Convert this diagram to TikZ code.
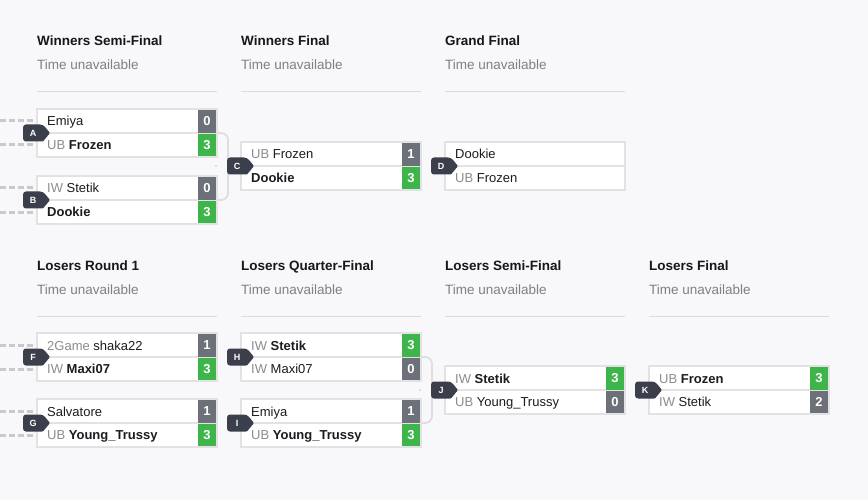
\documentclass[tikz,border=0pt]{standalone}
\usepackage{fontspec}
\setmainfont{Liberation Sans}
\definecolor{bgc}{HTML}{F8F8FA}
\definecolor{boxborder}{HTML}{E2E2E4}
\definecolor{connc}{HTML}{DEDEE0}
\definecolor{hline}{HTML}{DCDCDE}
\definecolor{titlec}{HTML}{15171C}
\definecolor{subc}{HTML}{7E8084}
\definecolor{prec}{HTML}{8A8C90}
\definecolor{namec}{HTML}{1A1C20}
\definecolor{lossc}{HTML}{6C7079}
\definecolor{winc}{HTML}{3DB54A}
\definecolor{tagc}{HTML}{3A3F4B}
\definecolor{dashc}{HTML}{C9C9CC}
\pgfdeclarelayer{bg}
\pgfsetlayers{bg,main}
\newcommand{\pre}[1]{\textcolor{prec}{#1}}
\newcommand{\matchbox}[9]{%
  \node[boxst, anchor=north west] (#1box) at (#2,#3) {};
  \draw[divst] (#1box.west) -- (#1box.east);
  \node[scorest, fill=#6] (#1s1) at (#2+170,#3+12.5) {#5};
  \node[scorest, fill=#9] (#1s2) at (#2+170,#3+35.8) {#8};
  \node[namest] (#1p1) at (#2+10,#3+17) {#4};
  \node[namest] (#1p2) at (#2+10,#3+40.5) {#7};
}
\newcommand{\header}[4]{%
  \node[titlest] (#1t) at (#2,#3) {#4};
  \node[subst] (#1s) at (#2,#3+24) {Time unavailable};
  \draw[hdrline] (#2,#3+46) coordinate (#1l1) -- (#2+180,#3+46) coordinate (#1l2);
}
% tag: pentagon pointing right, drawn round a named node
\newcommand{\mtag}[2]{%
  \fill[tagc] ([xshift=-14pt]#2box.west) ++(0,8.5) [rounded corners=3pt] -- ++(0,-17) -- ++(20,0) [rounded corners=0.8pt] -- ++(7,8.5) -- ++(-7,8.5) [rounded corners=3pt] -- cycle;
  \node[tagst] (#1tag) at ([xshift=-4pt]#2box.west) {#1};
}
\begin{document}
\begin{tikzpicture}[x=1pt,y=-1pt,
  boxst/.style={draw=boxborder, line width=1.6pt, fill=white, minimum width=180pt, minimum height=48pt, inner sep=0pt, outer sep=0pt},
  divst/.style={draw=boxborder, line width=1.4pt},
  scorest/.style={minimum width=18pt, minimum height=22.3pt, inner sep=0pt, text=white, font=\fontsize{13}{15}\selectfont\bfseries},
  namest/.style={anchor=base west, inner sep=0pt, text=namec, font=\fontsize{13}{15}\selectfont},
  titlest/.style={anchor=base west, inner sep=0pt, text=titlec, font=\fontsize{13.5}{16}\selectfont\bfseries},
  subst/.style={anchor=base west, inner sep=0pt, text=subc, font=\fontsize{13.5}{16}\selectfont},
  hdrline/.style={draw=hline, line width=1pt},
  tagst/.style={minimum width=20pt, minimum height=17pt, inner sep=0pt, text=white, font=\fontsize{9}{10}\selectfont\bfseries},
  connst/.style={draw=connc, line width=1.8pt},
  dashst/.style={draw=dashc, line width=3pt, dash pattern=on 5.5pt off 3.5pt},
]
\useasboundingbox (0,0) rectangle (868,500);

% headers
\header{ws}{37}{46}{Winners Semi-Final}
\header{wf}{241}{46}{Winners Final}
\header{gf}{445}{46}{Grand Final}
\header{lr}{37}{270}{Losers Round 1}
\header{lq}{241}{270}{Losers Quarter-Final}
\header{ls}{445}{270}{Losers Semi-Final}
\header{lf}{649}{270}{Losers Final}

% matches
\matchbox{A}{37}{109}{Emiya}{0}{lossc}{\pre{UB} \textbf{Frozen}}{3}{winc}
\matchbox{B}{37}{176}{\pre{IW} Stetik}{0}{lossc}{\textbf{Dookie}}{3}{winc}
\matchbox{C}{241}{142}{\pre{UB} Frozen}{1}{lossc}{\textbf{Dookie}}{3}{winc}
\matchbox{D}{445}{142}{Dookie}{}{none}{\pre{UB} Frozen}{}{none}
\matchbox{F}{37}{333}{\pre{2Game} shaka22}{1}{lossc}{\pre{IW} \textbf{Maxi07}}{3}{winc}
\matchbox{G}{37}{399}{Salvatore}{1}{lossc}{\pre{UB} \textbf{Young\_Trussy}}{3}{winc}
\matchbox{H}{241}{333}{\pre{IW} \textbf{Stetik}}{3}{winc}{\pre{IW} Maxi07}{0}{lossc}
\matchbox{I}{241}{399}{Emiya}{1}{lossc}{\pre{UB} \textbf{Young\_Trussy}}{3}{winc}
\matchbox{J}{445}{366}{\pre{IW} \textbf{Stetik}}{3}{winc}{\pre{UB} Young\_Trussy}{0}{lossc}
\matchbox{K}{649}{366}{\pre{UB} \textbf{Frozen}}{3}{winc}{\pre{IW} Stetik}{2}{lossc}

% tags
\mtag{A}{A}
\mtag{B}{B}
\mtag{C}{C}
\mtag{D}{D}
\mtag{F}{F}
\mtag{G}{G}
\mtag{H}{H}
\mtag{I}{I}
\mtag{J}{J}
\mtag{K}{K}

% incoming dashed lines
\coordinate (a1) at (0,121); \coordinate (a2) at (0,145);
\coordinate (b1) at (0,188); \coordinate (b2) at (0,212);
\coordinate (f1) at (0,345); \coordinate (f2) at (0,369);
\coordinate (g1) at (0,411); \coordinate (g2) at (0,435);
\begin{pgfonlayer}{bg}
\fill[bgc] (0,0) rectangle (868,500);
\draw[dashst] (a1) -- (Abox.west |- a1);
\draw[dashst] (a2) -- (Abox.west |- a2);
\draw[dashst] (b1) -- (Bbox.west |- b1);
\draw[dashst] (b2) -- (Bbox.west |- b2);
\draw[dashst] (f1) -- (Fbox.west |- f1);
\draw[dashst] (f2) -- (Fbox.west |- f2);
\draw[dashst] (g1) -- (Gbox.west |- g1);
\draw[dashst] (g2) -- (Gbox.west |- g2);
% connectors
\draw[connst, rounded corners=7pt] (Abox.east) -- ++(11,0) |- (Bbox.east);
\draw[connst] ([xshift=-10pt]Ctag.west) -- ++(-2,0);
\draw[connst] (Cbox.east) -- ([xshift=-10pt]Dtag.west);
\draw[connst] (Fbox.east) -- ([xshift=-10pt]Htag.west);
\draw[connst] (Gbox.east) -- ([xshift=-10pt]Itag.west);
\draw[connst, rounded corners=7pt] (Hbox.east) -- ++(11,0) |- (Ibox.east);
\draw[connst] ([xshift=-10pt]Jtag.west) -- ++(-2,0);
\draw[connst] (Jbox.east) -- ([xshift=-10pt]Ktag.west);
\end{pgfonlayer}
\end{tikzpicture}
\end{document}
